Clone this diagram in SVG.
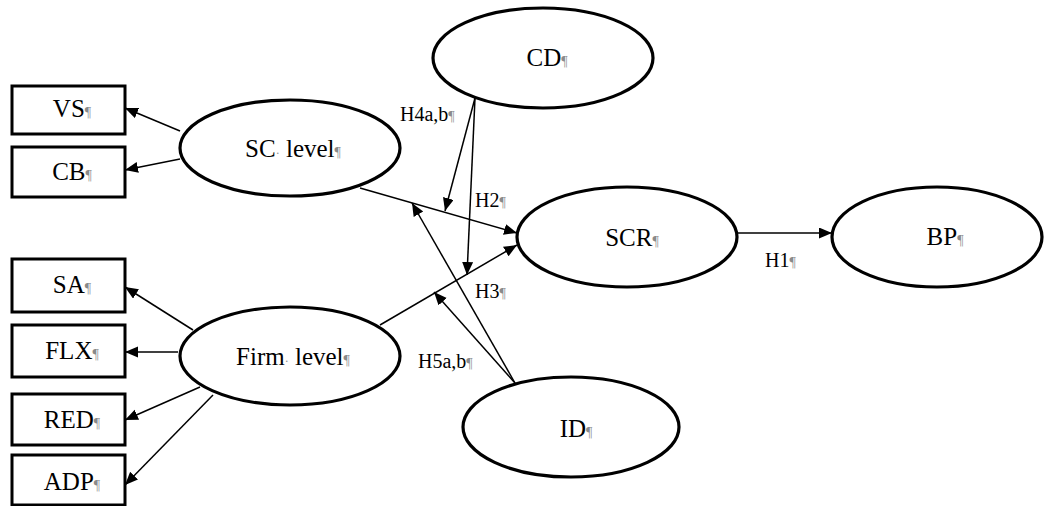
<svg xmlns="http://www.w3.org/2000/svg" width="1047" height="506" viewBox="0 0 1047 506">
<style>
.box{fill:#fff;stroke:#000;stroke-width:3}
.ell{fill:#fff;stroke:#000;stroke-width:3.2}
.lbl{font-family:"Liberation Serif","Times New Roman",serif;font-size:25px;fill:#000;text-anchor:middle}
.hyp{font-family:"Liberation Serif","Times New Roman",serif;font-size:20px;fill:#000}
.pm{fill:#8a8a8a;font-size:14px}
.sp{fill:#8a8a8a;font-size:12px}
.conn{stroke:#000;stroke-width:1.5;fill:none;marker-end:url(#arr)}
</style>
<defs>
<marker id="arr" markerUnits="userSpaceOnUse" markerWidth="14" markerHeight="12" refX="13" refY="5.5" orient="auto">
<path d="M0,0 L13,5.5 L0,11 z" fill="#000"/>
</marker>
</defs>
<rect width="1047" height="506" fill="#fff"/>
<g id="connectors">
<path class="conn" d="M180,131 L125,108"/>
<path class="conn" d="M180,159 L125,170"/>
<path class="conn" d="M193,330 L125,287"/>
<path class="conn" d="M178,352 L125,352"/>
<path class="conn" d="M200,387 L125,420"/>
<path class="conn" d="M213,395 L125,485"/>
<path class="conn" d="M360,188 L517,233"/>
<path class="conn" d="M380,325 L517,245"/>
<path class="conn" d="M475,98 L445,211"/>
<path class="conn" d="M475,98 L467,275"/>
<path class="conn" d="M515,383 L412,203"/>
<path class="conn" d="M515,383 L434,292"/>
<path class="conn" d="M738,233 L832,233"/>
</g>
<g id="labels">
<text class="hyp" x="400" y="121">H4a,b<tspan class="pm">¶</tspan></text>
<text class="hyp" x="475" y="207">H2<tspan class="pm">¶</tspan></text>
<text class="hyp" x="475" y="298">H3<tspan class="pm">¶</tspan></text>
<text class="hyp" x="418" y="368">H5a,b<tspan class="pm">¶</tspan></text>
<text class="hyp" x="765" y="267">H1<tspan class="pm">¶</tspan></text>
</g>
<g id="VS"><rect class="box" x="12" y="86" width="113" height="48"/><text class="lbl" x="72" y="117">VS<tspan class="pm">¶</tspan></text></g>
<g id="CB"><rect class="box" x="12" y="147" width="113" height="50"/><text class="lbl" x="72" y="180">CB<tspan class="pm">¶</tspan></text></g>
<g id="SA"><rect class="box" x="12" y="259" width="113" height="53"/><text class="lbl" x="72" y="293">SA<tspan class="pm">¶</tspan></text></g>
<g id="FLX"><rect class="box" x="12" y="325" width="113" height="52"/><text class="lbl" x="72" y="359">FLX<tspan class="pm">¶</tspan></text></g>
<g id="RED"><rect class="box" x="12" y="394" width="113" height="51"/><text class="lbl" x="72" y="428">RED<tspan class="pm">¶</tspan></text></g>
<g id="ADP"><rect class="box" x="12" y="455" width="113" height="50"/><text class="lbl" x="72" y="490">ADP<tspan class="pm">¶</tspan></text></g>
<g id="SClevel"><ellipse class="ell" cx="290" cy="148" rx="110" ry="48"/><text class="lbl" x="293" y="157">SC<tspan class="sp">·</tspan> level<tspan class="pm">¶</tspan></text></g>
<g id="Firmlevel"><ellipse class="ell" cx="290" cy="356" rx="110" ry="49"/><text class="lbl" x="293" y="365">Firm<tspan class="sp">·</tspan> level<tspan class="pm">¶</tspan></text></g>
<g id="CD"><ellipse class="ell" cx="543" cy="58" rx="110" ry="50"/><text class="lbl" x="547" y="66">CD<tspan class="pm">¶</tspan></text></g>
<g id="SCR"><ellipse class="ell" cx="627" cy="237" rx="110" ry="50"/><text class="lbl" x="632" y="246">SCR<tspan class="pm">¶</tspan></text></g>
<g id="BP"><ellipse class="ell" cx="937" cy="237" rx="105" ry="50"/><text class="lbl" x="945" y="245">BP<tspan class="pm">¶</tspan></text></g>
<g id="ID"><ellipse class="ell" cx="571" cy="427" rx="108" ry="50"/><text class="lbl" x="576" y="437">ID<tspan class="pm">¶</tspan></text></g>
</svg>
